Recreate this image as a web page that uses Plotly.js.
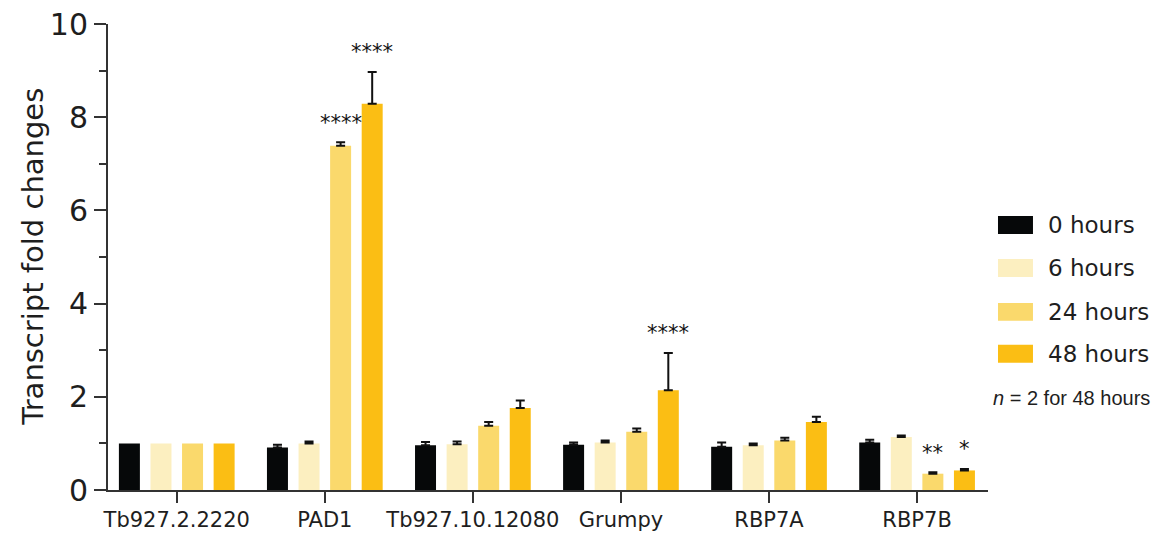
<!DOCTYPE html>
<html>
<head>
<meta charset="utf-8">
<script src="https://cdn.plot.ly/plotly-3.0.1.min.js"></script>
<style>
  html, body { margin: 0; padding: 0; background: #fff; }
  #chart { width: 1161px; height: 535px; }
</style>
</head>
<body>
<div id="chart"></div>
<script>
// ---- data ----
const genes = ["Tb927.2.2220", "PAD1", "Tb927.10.12080", "Grumpy", "RBP7A", "RBP7B"];
const seriesNames = ["0 hours", "6 hours", "24 hours", "48 hours"];
const seriesColors = ["#060809", "#FCEFC0", "#FAD96C", "#FBBE14"];

const h0  = [1.00, 0.91, 0.96, 0.97, 0.93, 1.02];
const h6  = [1.00, 1.00, 0.98, 1.02, 0.96, 1.14];
const h24 = [1.00, 7.39, 1.38, 1.25, 1.06, 0.35];
const h48 = [1.00, 8.29, 1.76, 2.14, 1.46, 0.42];

// upward error bars (NaN = no error bar)
const e0  = [NaN, 0.06, 0.07, 0.05, 0.09, 0.06];
const e6  = [NaN, 0.04, 0.06, 0.04, 0.04, 0.03];
const e24 = [NaN, 0.07, 0.08, 0.07, 0.06, 0.03];
const e48 = [NaN, 0.68, 0.16, 0.80, 0.11, 0.03];

const sig0  = ["", "", "", "", "", ""];
const sig6  = ["", "", "", "", "", ""];
const sig24 = ["", "****", "", "", "", "**"];
const sig48 = ["", "****", "", "****", "", "*"];

const footnote = "<i>n</i> = 2 for 48 hours";
const yTitle = "Transcript fold changes";

// ---- build ----
const values = [h0, h6, h24, h48];
const errors = [e0, e6, e24, e48];
const sigs = [sig0, sig6, sig24, sig48];

const FONT = "DejaVu Sans, sans-serif";
const TXT = "#1e1e1e";
const BARGAP = 0.147;
const nSeries = values.length;
const slot = (1 - BARGAP) / nSeries;

const traces = values.map((v, k) => ({
  type: "bar",
  name: seriesNames[k],
  x: genes,
  y: v,
  marker: { color: seriesColors[k], line: { width: 0 } },
  error_y: {
    type: "data",
    symmetric: false,
    array: errors[k],
    arrayminus: errors[k].map(e => isNaN(e) ? NaN : 0),
    color: "#111",
    thickness: 2,
    width: 4.5,
    visible: true
  },
  showlegend: false,
  hoverinfo: "x+y+name"
}));

const annotations = [];
// significance stars
sigs.forEach((s, k) => {
  s.forEach((txt, i) => {
    if (!txt) return;
    const e = errors[k][i];
    const top = values[k][i] + (isNaN(e) ? 0 : e);
    annotations.push({
      x: i + (k - (nSeries - 1) / 2) * slot,
      y: top + 0.42,
      xref: "x", yref: "y",
      text: txt,
      showarrow: false,
      yanchor: "middle",
      font: { family: FONT, size: 21, color: "#111" }
    });
  });
});

// y title
annotations.push({
  xref: "paper", yref: "paper",
  x: -0.0855, y: 0.5,
  xanchor: "center", yanchor: "middle",
  text: yTitle,
  textangle: -90,
  showarrow: false,
  font: { family: FONT, size: 29, color: TXT }
});

// custom legend
const L = 107.5, R = 988, T = 23.5, B = 490.5;
const px = v => (v - L) / (R - L);
const py = v => (B - v) / (B - T);
const legendRows = [225, 268, 312, 354];
const shapes = [];
seriesNames.forEach((n, k) => {
  const cy = legendRows[k];
  shapes.push({
    type: "rect", xref: "paper", yref: "paper",
    x0: px(998), x1: px(1033), y0: py(cy + 9), y1: py(cy - 9),
    fillcolor: seriesColors[k], line: { width: 0 }
  });
  annotations.push({
    xref: "paper", yref: "paper",
    x: px(1046), y: py(cy),
    xanchor: "left", yanchor: "middle",
    text: n, showarrow: false,
    font: { family: FONT, size: 23, color: TXT }
  });
});
annotations.push({
  xref: "paper", yref: "paper",
  x: px(991), y: py(398),
  xanchor: "left", yanchor: "middle",
  text: footnote, showarrow: false,
  font: { family: "Liberation Sans, Arial, sans-serif", size: 20, color: TXT }
});

const layout = {
  width: 1161, height: 535,
  margin: { l: L, r: 1161 - R, t: T, b: 535 - B, pad: 0 },
  paper_bgcolor: "#fff",
  plot_bgcolor: "#fff",
  barmode: "group",
  bargap: BARGAP,
  bargroupgap: 0.335,
  showlegend: false,
  xaxis: {
    type: "category",
    range: [-0.4644, 5.479],
    showgrid: false,
    zeroline: false,
    showline: true,
    linecolor: "#333",
    linewidth: 2,
    ticks: "outside",
    ticklen: 11,
    tickwidth: 2,
    tickcolor: "#333",
    ticklabelstandoff: -1,
    tickfont: { family: FONT, size: 21, color: TXT },
    fixedrange: true,
    automargin: false
  },
  yaxis: {
    range: [0, 10],
    tickvals: [0, 2, 4, 6, 8, 10],
    showgrid: false,
    zeroline: false,
    showline: true,
    linecolor: "#333",
    linewidth: 2,
    ticks: "outside",
    ticklen: 12,
    tickwidth: 2,
    tickcolor: "#333",
    tickfont: { family: FONT, size: 30, color: TXT },
    minor: { tickvals: [1, 3, 5, 7, 9], ticks: "outside", ticklen: 7, tickwidth: 2, tickcolor: "#333", showgrid: false },
    fixedrange: true,
    automargin: false
  },
  annotations: annotations,
  shapes: shapes
};

Plotly.newPlot("chart", traces, layout, { displayModeBar: false, staticPlot: true });
</script>
</body>
</html>
